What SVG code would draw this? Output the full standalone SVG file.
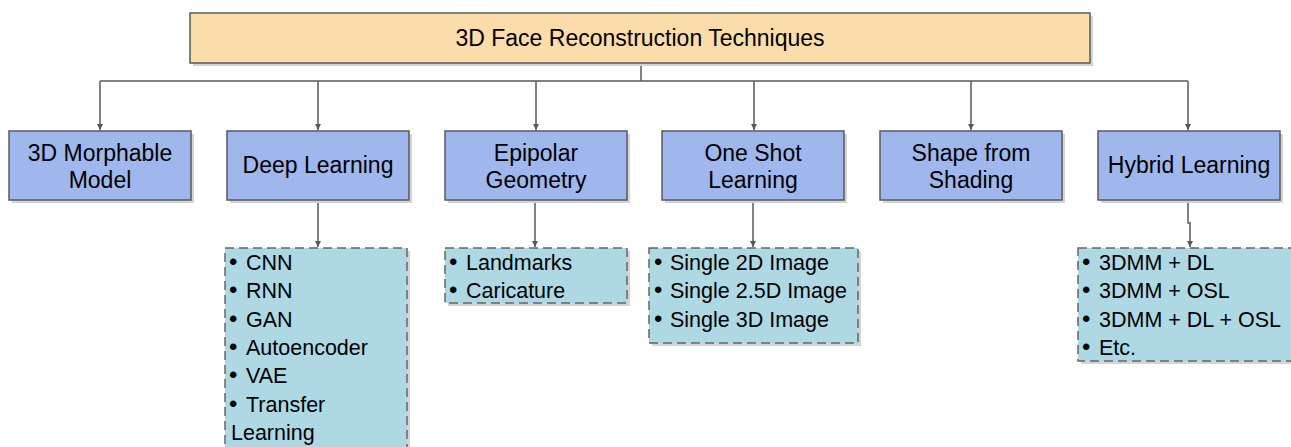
<svg xmlns="http://www.w3.org/2000/svg" width="1291" height="447" viewBox="0 0 1291 447">
  <style>
    text { font-family: "Liberation Sans", Arial, sans-serif; fill: #000; }
    .title { font-size: 23px; text-anchor: middle; }
    .cat { font-size: 23px; text-anchor: middle; }
    .item { font-size: 21.5px; }
    .dot { font-size: 24px; }
    .shadow { fill: #d4d4d4; }
    .root { fill: #fcdcaa; stroke: #595959; stroke-width: 1.5; }
    .box { fill: #9fb7ec; stroke: #595959; stroke-width: 1.5; }
    .list { fill: #add8e4; stroke: #666; stroke-width: 1.5; stroke-dasharray: 9 5; }
    .wire { fill: none; stroke: #595959; stroke-width: 1.5; }
  </style>
  <defs>
    <marker id="arr" viewBox="0 0 6 6" refX="6" refY="3" markerWidth="6" markerHeight="6" markerUnits="userSpaceOnUse" orient="auto">
      <path d="M0,0 L6,3 L0,6 z" fill="#595959"/>
    </marker>
  </defs>
  <rect width="1291" height="447" fill="#ffffff"/>

  <!-- connectors -->
  <g id="connectors">
    <path class="wire" d="M641,63 V81"/>
    <path class="wire" d="M100,81 H1188"/>
    <path class="wire" d="M100,81 V130" marker-end="url(#arr)"/>
    <path class="wire" d="M318,81 V130" marker-end="url(#arr)"/>
    <path class="wire" d="M536,81 V130" marker-end="url(#arr)"/>
    <path class="wire" d="M754,81 V130" marker-end="url(#arr)"/>
    <path class="wire" d="M971,81 V130" marker-end="url(#arr)"/>
    <path class="wire" d="M1188,81 V130" marker-end="url(#arr)"/>
    <path class="wire" d="M318,200 V247" marker-end="url(#arr)"/>
    <path class="wire" d="M535,200 V247" marker-end="url(#arr)"/>
    <path class="wire" d="M753,200 V247" marker-end="url(#arr)"/>
    <path class="wire" d="M1188,200 V223 H1190 V247" marker-end="url(#arr)"/>
  </g>

  <!-- root -->
  <g id="root">
    <rect class="shadow" x="193" y="16" width="900" height="50"/>
    <rect class="root" x="190" y="13" width="900" height="50"/>
    <text class="title" x="640" y="46">3D Face Reconstruction Techniques</text>
  </g>

  <!-- categories -->
  <g id="morphable">
    <rect class="shadow" x="12" y="134" width="182" height="69"/>
    <rect class="box" x="9" y="131" width="182" height="69"/>
    <text class="cat" x="100" y="161">3D Morphable</text>
    <text class="cat" x="100" y="188">Model</text>
  </g>
  <g id="deep-learning">
    <rect class="shadow" x="230" y="134" width="182" height="69"/>
    <rect class="box" x="227" y="131" width="182" height="69"/>
    <text class="cat" x="318" y="173">Deep Learning</text>
  </g>
  <g id="epipolar">
    <rect class="shadow" x="448" y="134" width="182" height="69"/>
    <rect class="box" x="445" y="131" width="182" height="69"/>
    <text class="cat" x="536" y="161">Epipolar</text>
    <text class="cat" x="536" y="188">Geometry</text>
  </g>
  <g id="one-shot">
    <rect class="shadow" x="665" y="134" width="182" height="69"/>
    <rect class="box" x="662" y="131" width="182" height="69"/>
    <text class="cat" x="753" y="161">One Shot</text>
    <text class="cat" x="753" y="188">Learning</text>
  </g>
  <g id="shading">
    <rect class="shadow" x="883" y="134" width="182" height="69"/>
    <rect class="box" x="880" y="131" width="182" height="69"/>
    <text class="cat" x="971" y="161">Shape from</text>
    <text class="cat" x="971" y="188">Shading</text>
  </g>
  <g id="hybrid">
    <rect class="shadow" x="1101" y="134" width="182" height="69"/>
    <rect class="box" x="1098" y="131" width="182" height="69"/>
    <text class="cat" x="1189" y="173">Hybrid Learning</text>
  </g>

  <!-- sub-lists: bullet glyph, then the item text -->
  <g id="deep-learning-list">
    <rect class="shadow" x="228" y="251" width="182" height="210"/>
    <rect class="list" x="225" y="248" width="182" height="210"/>
    <text class="item" y="270"><tspan class="dot" x="229">•</tspan><tspan x="246">CNN</tspan></text>
    <text class="item" y="298"><tspan class="dot" x="229">•</tspan><tspan x="246">RNN</tspan></text>
    <text class="item" y="327"><tspan class="dot" x="229">•</tspan><tspan x="246">GAN</tspan></text>
    <text class="item" y="355"><tspan class="dot" x="229">•</tspan><tspan x="246">Autoencoder</tspan></text>
    <text class="item" y="383"><tspan class="dot" x="229">•</tspan><tspan x="246">VAE</tspan></text>
    <text class="item" y="412"><tspan class="dot" x="229">•</tspan><tspan x="246">Transfer</tspan></text>
    <text class="item" x="231" y="440">Learning</text>
  </g>
  <g id="epipolar-list">
    <rect class="shadow" x="448" y="251" width="182" height="55"/>
    <rect class="list" x="445" y="248" width="182" height="55"/>
    <text class="item" y="270"><tspan class="dot" x="449">•</tspan><tspan x="466">Landmarks</tspan></text>
    <text class="item" y="298"><tspan class="dot" x="449">•</tspan><tspan x="466">Caricature</tspan></text>
  </g>
  <g id="one-shot-list">
    <rect class="shadow" x="652" y="251" width="209" height="95"/>
    <rect class="list" x="649" y="248" width="209" height="95"/>
    <text class="item" y="270"><tspan class="dot" x="654">•</tspan><tspan x="670">Single 2D Image</tspan></text>
    <text class="item" y="298"><tspan class="dot" x="654">•</tspan><tspan x="670">Single 2.5D Image</tspan></text>
    <text class="item" y="327"><tspan class="dot" x="654">•</tspan><tspan x="670">Single 3D Image</tspan></text>
  </g>
  <g id="hybrid-list">
    <rect class="shadow" x="1081" y="251" width="220" height="113"/>
    <rect class="list" x="1078" y="248" width="220" height="113"/>
    <text class="item" y="270"><tspan class="dot" x="1082">•</tspan><tspan x="1099">3DMM + DL</tspan></text>
    <text class="item" y="298"><tspan class="dot" x="1082">•</tspan><tspan x="1099">3DMM + OSL</tspan></text>
    <text class="item" y="327"><tspan class="dot" x="1082">•</tspan><tspan x="1099">3DMM + DL + OSL</tspan></text>
    <text class="item" y="355"><tspan class="dot" x="1082">•</tspan><tspan x="1099">Etc.</tspan></text>
  </g>
</svg>
